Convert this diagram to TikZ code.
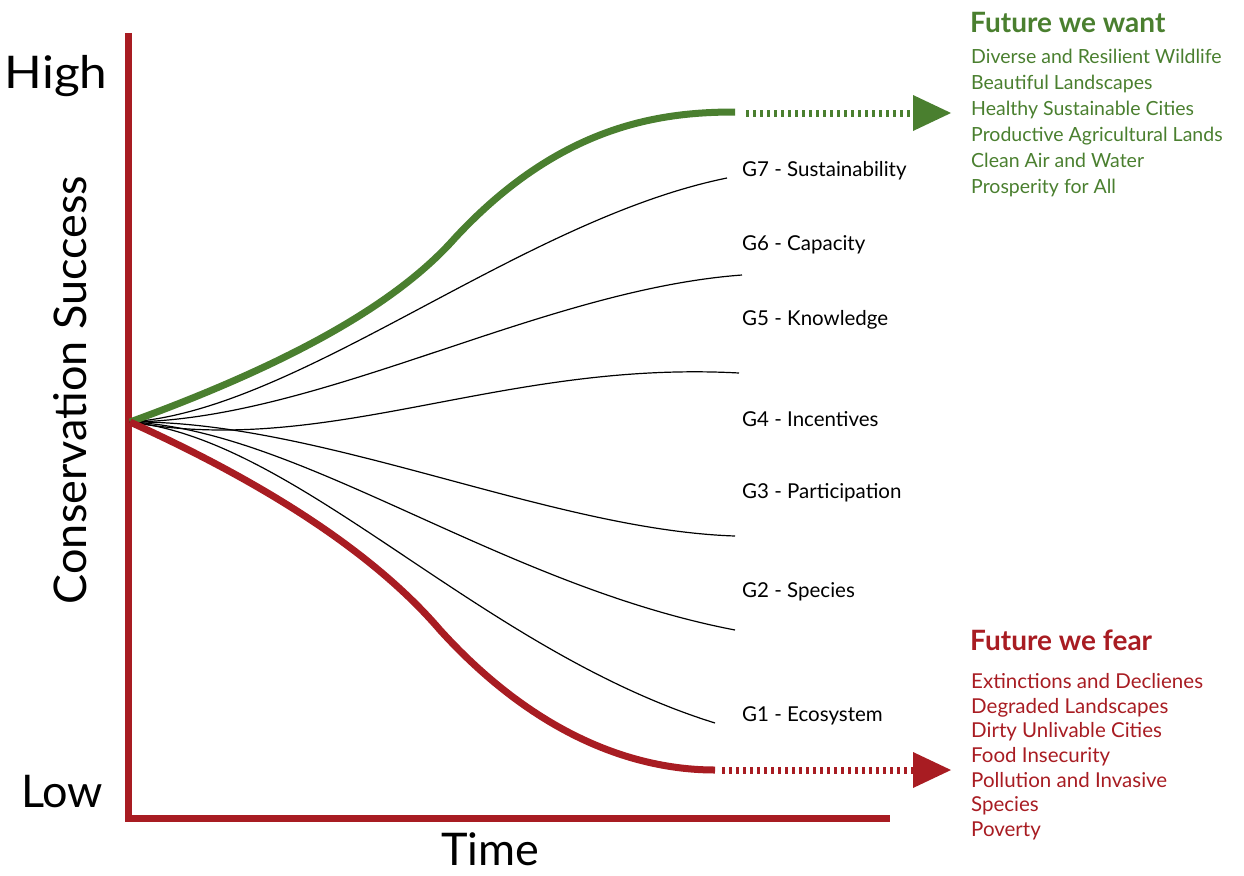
\documentclass[tikz,border=0pt]{standalone}
\usepackage{fontspec}
\setmainfont{Lato}
\usetikzlibrary{arrows.meta}
\definecolor{wantgreen}{HTML}{4A7F2F}
\definecolor{fearred}{HTML}{A81C22}
\tikzset{
  goalline/.style={black, line width=1.2pt},
  goallabel/.style={anchor=west, inner sep=0pt, font=\fontsize{20.5}{22}\selectfont},
  bigtext/.style={inner sep=0pt, font=\fontsize{45}{48}\selectfont},
  listtext/.style={anchor=north west, inner sep=0pt, align=left, font=\fontsize{20.5}{24.7}\selectfont},
  futuretitle/.style={anchor=west, inner sep=0pt, font=\bfseries\fontsize{28}{30}\selectfont},
  futurearrow/.style={line width=7pt, dash pattern=on 3pt off 4pt, -{Triangle[length=38pt,width=36pt,line width=0pt]}}
}
\begin{document}
\begin{tikzpicture}[x=1pt, y=-1pt]
        \useasboundingbox (0,0) rectangle (1244,875);

        % Axes
        \coordinate (origin) at (128,818);
        \coordinate (start) at (130,422);
        \draw[fearred, line width=7pt] (128,33) -- (origin) -- (890,818);
        \node[bigtext, xscale=1.1] (high) at (56,76) {High};
        \node[bigtext] (low) at (62,792) {Low};
        \node[bigtext] (time) at (490,849) {Time};
        \node[bigtext, rotate=90] (success) at (70,390) {Conservation Success};

        % Goal curves
        \draw[goalline] (start) .. controls (300,410) and (520,220) .. (727,178);
        \draw[goalline] (start) .. controls (320,420) and (540,290) .. (742,275);
        \draw[goalline] (start) .. controls (330,458) and (500,360) .. (739,373);
        \draw[goalline] (start) .. controls (320,420) and (550,530) .. (735,536);
        \draw[goalline] (start) .. controls (300,430) and (500,585) .. (735,630);
        \draw[goalline] (start) .. controls (300,440) and (480,650) .. (715,723);

        \node[goallabel] (g7) at (742,171) {G7 - Sustainability};
        \node[goallabel] (g6) at (742,245) {G6 - Capacity};
        \node[goallabel] (g5) at (742,320) {G5 - Knowledge};
        \node[goallabel] (g4) at (742,419) {G4 - Incentives};
        \node[goallabel] (g3) at (742,493) {G3 - Participation};
        \node[goallabel] (g2) at (742,592) {G2 - Species};
        \node[goallabel] (g1) at (742,716) {G1 - Ecosystem};

        % Future we want
        \coordinate (wantend) at (735,112);
        \draw[wantgreen, line width=7pt] (start) .. controls (300,360) and (400,300) .. (455,238)
            .. controls (560,125) and (660,112) .. (wantend);
        \coordinate (wantdots) at (746,113);
        \coordinate (wanttip) at (951,113);
        \draw[wantgreen, futurearrow] (wantdots) -- (wanttip);
        \node[futuretitle, text=wantgreen] (want) at (970,22) {Future we want};
        \node[listtext, text=wantgreen, font=\fontsize{19.5}{26}\selectfont] (wantlist) at (971,49) {Diverse and Resilient Wildlife\\Beautiful Landscapes\\Healthy Sustainable Cities\\Productive Agricultural Lands\\Clean Air and Water\\Prosperity for All};

        % Future we fear
        \coordinate (fearend) at (715,770);
        \draw[fearred, line width=7pt] (start) .. controls (280,490) and (380,560) .. (440,630)
            .. controls (540,740) and (640,770) .. (fearend);
        \coordinate (feardots) at (722,770);
        \coordinate (feartip) at (951,770);
        \draw[fearred, futurearrow] (feardots) -- (feartip);
        \node[futuretitle, text=fearred] (fear) at (970,640) {Future we fear};
        \node[listtext, text=fearred] (fearlist) at (971,673) {Extinctions and Declienes\\Degraded Landscapes\\Dirty Unlivable Cities\\Food Insecurity\\Pollution and Invasive\\Species\\Poverty};
\end{tikzpicture}
\end{document}
